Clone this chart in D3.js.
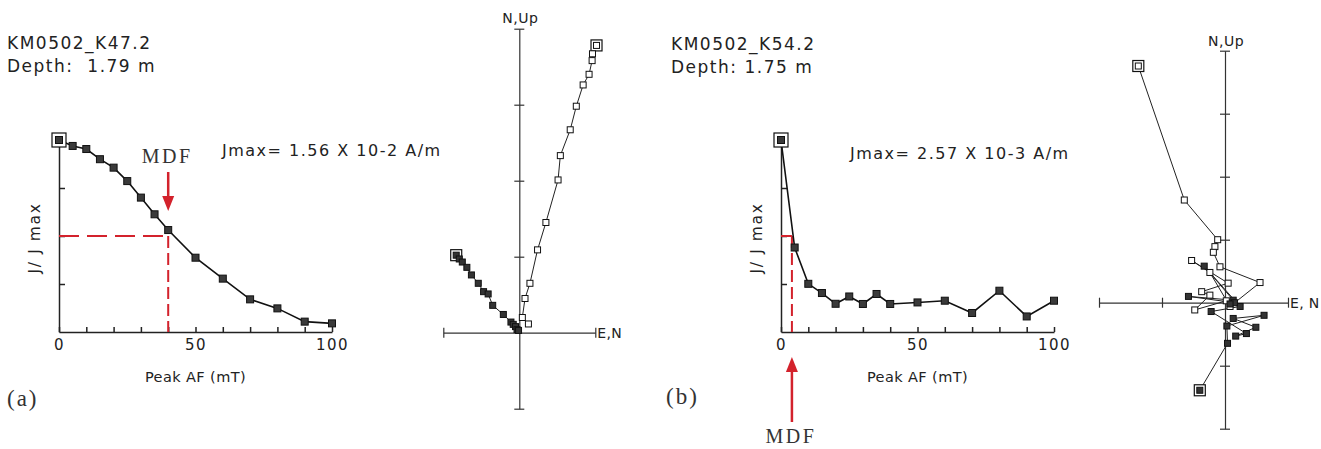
<!DOCTYPE html>
<html>
<head>
<meta charset="utf-8">
<style>
  body { margin: 0; background: #fff; }
  svg text { font-family: "DejaVu Sans", sans-serif; fill: #222; }
</style>
</head>
<body>
<div id="chartContainer"></div>
<script src="https://cdnjs.cloudflare.com/ajax/libs/d3/7.8.5/d3.min.js"></script>
<script>

// AF demagnetisation steps (mT), same for both samples
var steps = [0, 5, 10, 15, 20, 25, 30, 35, 40, 50, 60, 70, 80, 90, 100];

// Sample (a) KM0502_K47.2
var aIntensity = [1.0, 0.969, 0.953, 0.90, 0.856, 0.786, 0.70, 0.613, 0.531, 0.387, 0.278, 0.170, 0.123, 0.054, 0.045];
var aHorizE = [-0.83, -0.79, -0.75, -0.69, -0.63, -0.54, -0.47, -0.41, -0.35, -0.21, -0.11, -0.08, -0.05, -0.03, -0.01];
var aHorizN = [1.02, 0.97, 0.93, 0.86, 0.76, 0.65, 0.54, 0.51, 0.36, 0.24, 0.14, 0.11, 0.08, 0.04, 0.03];
var aVertN = [1.016, 0.963, 0.958, 0.918, 0.84, 0.75, 0.67, 0.54, 0.51, 0.35, 0.24, 0.14, 0.075, 0.04, 0.12];
var aVertUp = [3.78, 3.67, 3.58, 3.40, 3.26, 2.98, 2.67, 2.33, 2.01, 1.45, 1.09, 0.65, 0.45, 0.20, 0.115];
var aMdf = 40;

// Sample (b) KM0502_K54.2
var bIntensity = [1.0, 0.44, 0.251, 0.203, 0.147, 0.185, 0.146, 0.198, 0.146, 0.154, 0.163, 0.099, 0.215, 0.081, 0.163];
var bHorizE = [-0.40, 0.04, 0.03, 0.62, 0.13, 0.49, 0.17, 0.34, -0.22, 0.24, -0.33, 0.13, -0.58, 0.15, 0.08];
var bHorizN = [-1.39, -0.645, -0.37, -0.20, -0.25, -0.39, -0.53, -0.49, -0.14, -0.06, 0.58, 0.04, 0.10, 0.0, -0.02];
var bVertN = [-1.376, -0.646, -0.116, -0.16, -0.185, -0.08, 0.556, 0.08, -0.24, -0.53, 0.05, -0.37, -0.24, -0.48, 0.02];
var bVertUp = [3.757, 1.63, 1.0, 0.89, 0.80, 0.57, 0.32, -0.06, 0.48, 0.67, 0.31, 0.175, 0.12, -0.115, 0.03];
var bMdf = 4;

// Text
var aTitle = ["KM0502_K47.2", "Depth:  1.79 m"];
var bTitle = ["KM0502_K54.2", "Depth: 1.75 m"];
var aJmax = "Jmax= 1.56 X 10-2 A/m";
var bJmax = "Jmax= 2.57 X 10-3 A/m";

var red = "#d3222c";
var ink = "#222";

var svg = d3.select("#chartContainer").append("svg")
	.attr("width", 1321).attr("height", 449);

// Squares centred on a point
function squares(g, pts, size, fill) {
	g.selectAll(null).data(pts).enter().append("rect")
		.attr("x", function (d) { return d[0] - size / 2; })
		.attr("y", function (d) { return d[1] - size / 2; })
		.attr("width", size).attr("height", size)
		.attr("fill", fill).attr("stroke", "#111").attr("stroke-width", 1);
}

// Intensity decay plot: J/Jmax against peak AF
function drawDemag(p) {
	var g = svg.append("g");
	var x = d3.scaleLinear().domain([0, 100]).range([p.left, p.left + 273]);
	var y = d3.scaleLinear().domain([0, 1]).range([332, 140]);

	var xAxis = d3.axisBottom(x).tickValues(d3.range(0, 101, 10))
		.tickSize(-5).tickSizeOuter(0).tickPadding(7)
		.tickFormat(function (d) { return d % 50 === 0 ? d : ""; });
	var gx = g.append("g").attr("transform", "translate(0," + y(0) + ")").call(xAxis);
	gx.attr("font-family", null).attr("font-size", null);
	gx.selectAll("text").style("font-size", "15px").style("letter-spacing", "1.5px").attr("fill", ink);

	var yAxis = d3.axisLeft(y).tickValues([0.25, 0.5, 0.75, 1])
		.tickSize(-6).tickSizeOuter(0).tickFormat("");
	var gy = g.append("g").attr("transform", "translate(" + x(0) + ",0)").call(yAxis);
	g.selectAll(".domain, .tick line").attr("stroke", ink).attr("stroke-width", 1.5);

	// MDF guide lines at half intensity
	g.append("line").attr("x1", x(0)).attr("x2", x(p.mdf)).attr("y1", y(0.5)).attr("y2", y(0.5))
		.attr("stroke", red).attr("stroke-width", 2).attr("stroke-dasharray", p.hDash);
	g.append("line").attr("x1", x(p.mdf)).attr("x2", x(p.mdf)).attr("y1", y(0.5)).attr("y2", y(0))
		.attr("stroke", red).attr("stroke-width", 2).attr("stroke-dasharray", "12,5");

	// decay curve
	var pts = steps.map(function (s, i) { return [x(s), y(p.values[i])]; });
	g.append("path").datum(pts).attr("d", d3.line())
		.attr("fill", "none").attr("stroke", "#111").attr("stroke-width", 1.6);
	g.append("rect").attr("x", pts[0][0] - 7).attr("y", pts[0][1] - 7).attr("width", 14).attr("height", 14)
		.attr("fill", "#fff").attr("stroke", "#111").attr("stroke-width", 1.2);
	squares(g, pts, 7, "#3a3a3a");

	// axis titles
	g.append("text").attr("x", x(50)).attr("y", 382).attr("text-anchor", "middle")
		.style("font-size", "14.5px").style("letter-spacing", "0.4px").text("Peak AF (mT)");
	g.append("text").attr("transform", "translate(" + (x(0) - 19) + ",238) rotate(-90)")
		.attr("text-anchor", "middle").style("font-size", "15.5px").style("letter-spacing", "1.6px")
		.text("J/ J max");

	// MDF arrow
	var ax = x(p.mdf);
	g.append("line").attr("x1", ax).attr("x2", ax).attr("y1", p.arrowFrom).attr("y2", p.arrowTip + p.headDir * 12)
		.attr("stroke", red).attr("stroke-width", 2.5);
	g.append("path")
		.attr("d", "M" + ax + "," + p.arrowTip + "L" + (ax - 6) + "," + (p.arrowTip + p.headDir * 15)
			+ "L" + (ax + 6) + "," + (p.arrowTip + p.headDir * 15) + "Z")
		.attr("fill", red);
	g.append("text").attr("x", ax - 1).attr("y", p.mdfY).attr("text-anchor", "middle")
		.style("font-family", "'Liberation Serif', serif").style("font-size", "20px")
		.style("letter-spacing", "2.5px").style("fill", "#333").text("MDF");

	// header and Jmax
	g.selectAll(null).data(p.title).enter().append("text")
		.attr("x", p.titleX).attr("y", function (d, i) { return p.titleY + i * 23; })
		.style("font-size", "17px").style("letter-spacing", "1.5px").style("white-space", "pre")
		.text(function (d) { return d; });
	g.append("text").attr("x", p.jX).attr("y", p.jY)
		.style("font-size", "16px").style("letter-spacing", "1.5px").text(p.jmax);
	g.append("text").attr("x", p.tagX).attr("y", p.tagY)
		.style("font-family", "'Liberation Serif', serif").style("font-size", "23px")
		.style("letter-spacing", "2px").style("fill", "#333").text(p.tag);
}

// Orthogonal vector plot: filled = horizontal plane, open = vertical plane
function drawZij(p) {
	var g = svg.append("g");
	var x = d3.scaleLinear().domain(p.xExt).range([p.cx + p.xExt[0] * p.unit, p.cx + p.xExt[1] * p.unit]);
	var y = d3.scaleLinear().domain(p.yExt).range([p.cy - p.yExt[0] * p.unit, p.cy - p.yExt[1] * p.unit]);

	var gx = g.append("g").attr("transform", "translate(0," + y(0) + ")")
		.call(d3.axisBottom(x).tickValues(p.xTicks).tickSize(5).tickSizeOuter(0).tickFormat(""));
	gx.selectAll(".tick line").attr("y1", -5);
	var gy = g.append("g").attr("transform", "translate(" + x(0) + ",0)")
		.call(d3.axisLeft(y).tickValues(p.yTicks).tickSize(5).tickSizeOuter(0).tickFormat(""));
	gy.selectAll(".tick line").attr("x1", 5);
	g.selectAll(".domain, .tick line").attr("stroke", "#333").attr("stroke-width", 1.2);

	g.append("text").attr("x", x(0) + 1).attr("y", p.nLabelY).attr("text-anchor", "middle")
		.style("font-size", "14px").style("letter-spacing", "0.5px").text("N,Up");
	g.append("text").attr("x", x(p.xExt[1]) + 2).attr("y", y(0) + 5)
		.style("font-size", "14px").style("letter-spacing", "0.3px").text(p.eLabel);

	var line = d3.line();
	var horiz = p.hE.map(function (e, i) { return [x(e), y(p.hN[i])]; });
	var vert = p.vN.map(function (n, i) { return [x(n), y(p.vUp[i])]; });

	[horiz, vert].forEach(function (pts) {
		g.append("path").datum(pts).attr("d", line)
			.attr("fill", "none").attr("stroke", "#222").attr("stroke-width", 1);
		g.append("rect").attr("x", pts[0][0] - 5.5).attr("y", pts[0][1] - 5.5).attr("width", 11).attr("height", 11)
			.attr("fill", "#fff").attr("stroke", "#111").attr("stroke-width", 1.2);
	});
	squares(g, vert, 6, "#fff");
	squares(g, horiz, 6, "#333");
}

drawDemag({
	left: 59, values: aIntensity, mdf: aMdf, hDash: "20,8",
	arrowFrom: 172, arrowTip: 211, headDir: -1, mdfY: 163,
	title: aTitle, titleX: 7, titleY: 49, jmax: aJmax, jX: 222, jY: 156,
	tag: "(a)", tagX: 7, tagY: 406
});
drawDemag({
	left: 781, values: bIntensity, mdf: bMdf, hDash: null,
	arrowFrom: 422, arrowTip: 357, headDir: 1, mdfY: 443,
	title: bTitle, titleX: 671, titleY: 50, jmax: bJmax, jX: 850, jY: 159,
	tag: "(b)", tagX: 666, tagY: 404
});

drawZij({
	cx: 519.3, cy: 332.7, unit: 76, xExt: [-1, 1], yExt: [-1, 4],
	xTicks: [-1, 1], yTicks: [-1, 1, 2, 3, 4], nLabelY: 23, eLabel: "E,N",
	hE: aHorizE, hN: aHorizN, vN: aVertN, vUp: aVertUp
});
drawZij({
	cx: 1225, cy: 302.7, unit: 63, xExt: [-2, 1], yExt: [-2, 4],
	xTicks: [-2, -1, 1], yTicks: [-2, -1, 1, 2, 3, 4], nLabelY: 46, eLabel: "E, N",
	hE: bHorizE, hN: bHorizN, vN: bVertN, vUp: bVertUp
});

</script>
</body>
</html>
